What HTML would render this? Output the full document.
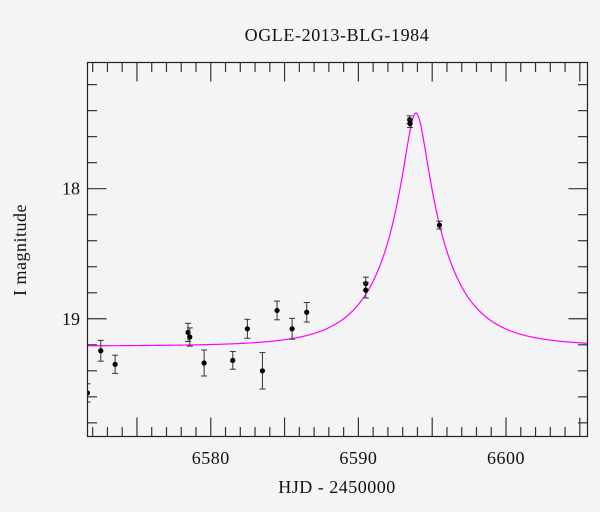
<!DOCTYPE html>
<html><head><meta charset="utf-8"><style>
body{margin:0;background:#f4f4f4;}
svg{display:block;font-family:"Liberation Serif",serif;}
</style></head><body>
<svg id="chart" width="600" height="512" viewBox="0 0 600 512">
<defs><clipPath id="plotclip"><rect x="87.5" y="62.5" width="500" height="374"/></clipPath></defs>
<rect x="0" y="0" width="600" height="512" fill="#f4f4f4"/>
<text x="337" y="41" text-anchor="middle" font-size="18" letter-spacing="0.6" fill="#111">OGLE-2013-BLG-1984</text>
<text x="337" y="493" text-anchor="middle" font-size="18" letter-spacing="0.5" fill="#111">HJD - 2450000</text>
<text transform="translate(26,250) rotate(-90)" text-anchor="middle" font-size="18" letter-spacing="0.5" fill="#111">I magnitude</text>
<g id="ticks"></g>
<g id="curve" clip-path="url(#plotclip)"></g>
<g id="points" clip-path="url(#plotclip)"></g>
<rect x="87.5" y="62.5" width="500" height="374" fill="none" stroke="#222" stroke-width="1.2"/>
</svg>
<script>
const hjd = [6571.65,6572.55,6573.52,6578.46,6578.58,6579.55,6581.49,6582.48,6583.5,6584.49,6585.51,6586.5,6590.5,6590.5,6593.47,6593.5,6595.49];
const mag = [19.57,19.246,19.35,19.105,19.14,19.34,19.32,19.077,19.40,18.936,19.077,18.95,18.73,18.78,17.47,17.50,18.28];
const err = [0.07,0.08,0.07,0.07,0.07,0.10,0.068,0.073,0.14,0.072,0.08,0.075,0.05,0.06,0.03,0.03,0.03];
const xTicks = [6580,6590,6600];
const yTicks = [18,19];
const modelT0 = [6593.9];
const modelU0 = [0.17];
const modelTE = [4.3];
const modelFs = [0.85];
const modelBase = [19.21];

const X0=87.5,X1=587.5,Y0=62.5,Y1=436.5;
const xMin=6571.65,xMax=6605.52,yMin=17.03,yMax=19.905;
const sx=v=>X0+(v-xMin)/(xMax-xMin)*(X1-X0);
const sy=v=>Y0+(v-yMin)/(yMax-yMin)*(Y1-Y0);
const NS='http://www.w3.org/2000/svg';
function mk(tag,attrs,parent){const e=document.createElementNS(NS,tag);for(const k in attrs)e.setAttribute(k,attrs[k]);parent.appendChild(e);return e;}

const tg=document.getElementById('ticks');
for(let d=Math.ceil(xMin);d<=xMax;d++){
  const major=d%5===0;const L=major?19:9.5;const x=sx(d);
  const b=mk('line',{x1:x,x2:x,y1:Y1,y2:Y1-L,stroke:'#333','stroke-width':1.2},tg);
  
  
  const t=mk('line',{x1:x,x2:x,y1:Y0,y2:Y0+L,stroke:'#333','stroke-width':1.2},tg);
  
  
}
xTicks.forEach(v=>{
  const t=mk('text',{x:sx(v),y:464,'text-anchor':'middle','font-size':18,'letter-spacing':0.5,fill:'#111'},tg);
  t.textContent=v;
  
  
});
for(let k=Math.ceil(yMin*5);k<=yMax*5;k++){
  const v=k/5;const major=k%5===0;const L=major?19:9.5;const y=sy(v);
  const l=mk('line',{x1:X0,x2:X0+L,y1:y,y2:y,stroke:'#333','stroke-width':1.2},tg);
  
  
  const r=mk('line',{x1:X1,x2:X1-L,y1:y,y2:y,stroke:'#333','stroke-width':1.2},tg);
  
  
}
yTicks.forEach(v=>{
  const t=mk('text',{x:80,y:sy(v)+6,'text-anchor':'end','font-size':18,fill:'#111'},tg);
  t.textContent=v;
  
  
});

const cg=document.getElementById('curve');
let d='';
for(let i=0;i<=1000;i++){
  const t=xMin+(xMax-xMin)*i/1000;
  const tau=(t-modelT0[0])/modelTE[0];
  const u=Math.sqrt(modelU0[0]*modelU0[0]+tau*tau);
  const A=(u*u+2)/(u*Math.sqrt(u*u+4));
  const F=modelFs[0]*A+(1-modelFs[0]);
  const m=modelBase[0]-2.5*Math.log10(F);
  d+=(i?'L':'M')+sx(t).toFixed(2)+','+sy(m).toFixed(2);
}
const path=mk('path',{d:d,fill:'none',stroke:'#ff00ff','stroke-width':1.2},cg);



const pg=document.getElementById('points');
hjd.forEach((t,i)=>{
  const x=sx(t),y=sy(mag[i]),ya=sy(mag[i]-err[i]),yb=sy(mag[i]+err[i]);
  const g=mk('g',{},pg);
  
  
  mk('line',{x1:x,x2:x,y1:ya,y2:yb,stroke:'#333','stroke-width':1},g);
  mk('line',{x1:x-3,x2:x+3,y1:ya,y2:ya,stroke:'#333','stroke-width':1},g);
  mk('line',{x1:x-3,x2:x+3,y1:yb,y2:yb,stroke:'#333','stroke-width':1},g);
  mk('circle',{cx:x,cy:y,r:2.6,fill:'#000'},g);
});
</script>
</body></html>
